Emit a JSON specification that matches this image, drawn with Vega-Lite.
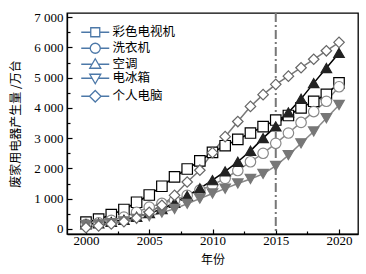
{
  "$schema": "https://vega.github.io/schema/vega-lite/v6.json",
  "width": 291,
  "height": 221,
  "autosize": {"type": "none"},
  "padding": {"left": 67, "top": 13, "right": 8, "bottom": 40},
  "config": {
    "view": {"stroke": "#000", "strokeWidth": 1.3},
    "axis": {
      "labelFont": "Liberation Serif",
      "labelFontSize": 13,
      "labelColor": "#000",
      "titleFont": "Noto Sans CJK SC",
      "titleFontSize": 12,
      "titleFontWeight": "normal",
      "titleColor": "#000",
      "domainColor": "#000",
      "domainWidth": 1.3,
      "tickColor": "#000",
      "tickWidth": 1.2,
      "grid": false
    },
    "legend": {
      "labelFont": "Noto Sans CJK SC",
      "labelFontSize": 12.5,
      "labelColor": "#000"
    }
  },
  "datasets": {
    "d": [
      {"year": 2000, "series": "彩色电视机", "value": 220},
      {"year": 2001, "series": "彩色电视机", "value": 320},
      {"year": 2002, "series": "彩色电视机", "value": 470},
      {"year": 2003, "series": "彩色电视机", "value": 640},
      {"year": 2004, "series": "彩色电视机", "value": 880},
      {"year": 2005, "series": "彩色电视机", "value": 1120},
      {"year": 2006, "series": "彩色电视机", "value": 1410},
      {"year": 2007, "series": "彩色电视机", "value": 1720},
      {"year": 2008, "series": "彩色电视机", "value": 1980},
      {"year": 2009, "series": "彩色电视机", "value": 2250},
      {"year": 2010, "series": "彩色电视机", "value": 2530},
      {"year": 2011, "series": "彩色电视机", "value": 2750},
      {"year": 2012, "series": "彩色电视机", "value": 2960},
      {"year": 2013, "series": "彩色电视机", "value": 3170},
      {"year": 2014, "series": "彩色电视机", "value": 3380},
      {"year": 2015, "series": "彩色电视机", "value": 3600},
      {"year": 2016, "series": "彩色电视机", "value": 3750},
      {"year": 2017, "series": "彩色电视机", "value": 4000},
      {"year": 2018, "series": "彩色电视机", "value": 4220},
      {"year": 2019, "series": "彩色电视机", "value": 4450},
      {"year": 2020, "series": "彩色电视机", "value": 4830},
      {"year": 2000, "series": "洗衣机", "value": 150},
      {"year": 2001, "series": "洗衣机", "value": 200},
      {"year": 2002, "series": "洗衣机", "value": 280},
      {"year": 2003, "series": "洗衣机", "value": 390},
      {"year": 2004, "series": "洗衣机", "value": 550},
      {"year": 2005, "series": "洗衣机", "value": 720},
      {"year": 2006, "series": "洗衣机", "value": 840},
      {"year": 2007, "series": "洗衣机", "value": 950},
      {"year": 2008, "series": "洗衣机", "value": 1110},
      {"year": 2009, "series": "洗衣机", "value": 1280},
      {"year": 2010, "series": "洗衣机", "value": 1450},
      {"year": 2011, "series": "洗衣机", "value": 1670},
      {"year": 2012, "series": "洗衣机", "value": 1930},
      {"year": 2013, "series": "洗衣机", "value": 2220},
      {"year": 2014, "series": "洗衣机", "value": 2500},
      {"year": 2015, "series": "洗衣机", "value": 2830},
      {"year": 2016, "series": "洗衣机", "value": 3170},
      {"year": 2017, "series": "洗衣机", "value": 3520},
      {"year": 2018, "series": "洗衣机", "value": 3880},
      {"year": 2019, "series": "洗衣机", "value": 4220},
      {"year": 2020, "series": "洗衣机", "value": 4700},
      {"year": 2000, "series": "空调", "value": 150},
      {"year": 2001, "series": "空调", "value": 180},
      {"year": 2002, "series": "空调", "value": 230},
      {"year": 2003, "series": "空调", "value": 300},
      {"year": 2004, "series": "空调", "value": 400},
      {"year": 2005, "series": "空调", "value": 520},
      {"year": 2006, "series": "空调", "value": 650},
      {"year": 2007, "series": "空调", "value": 860},
      {"year": 2008, "series": "空调", "value": 1090},
      {"year": 2009, "series": "空调", "value": 1340},
      {"year": 2010, "series": "空调", "value": 1610},
      {"year": 2011, "series": "空调", "value": 1900},
      {"year": 2012, "series": "空调", "value": 2220},
      {"year": 2013, "series": "空调", "value": 2580},
      {"year": 2014, "series": "空调", "value": 3000},
      {"year": 2015, "series": "空调", "value": 3390},
      {"year": 2016, "series": "空调", "value": 3850},
      {"year": 2017, "series": "空调", "value": 4300},
      {"year": 2018, "series": "空调", "value": 4820},
      {"year": 2019, "series": "空调", "value": 5320},
      {"year": 2020, "series": "空调", "value": 5820},
      {"year": 2000, "series": "电冰箱", "value": 120},
      {"year": 2001, "series": "电冰箱", "value": 150},
      {"year": 2002, "series": "电冰箱", "value": 190},
      {"year": 2003, "series": "电冰箱", "value": 250},
      {"year": 2004, "series": "电冰箱", "value": 330},
      {"year": 2005, "series": "电冰箱", "value": 420},
      {"year": 2006, "series": "电冰箱", "value": 540},
      {"year": 2007, "series": "电冰箱", "value": 660},
      {"year": 2008, "series": "电冰箱", "value": 830},
      {"year": 2009, "series": "电冰箱", "value": 1000},
      {"year": 2010, "series": "电冰箱", "value": 1170},
      {"year": 2011, "series": "电冰箱", "value": 1330},
      {"year": 2012, "series": "电冰箱", "value": 1500},
      {"year": 2013, "series": "电冰箱", "value": 1650},
      {"year": 2014, "series": "电冰箱", "value": 1820},
      {"year": 2015, "series": "电冰箱", "value": 2080},
      {"year": 2016, "series": "电冰箱", "value": 2440},
      {"year": 2017, "series": "电冰箱", "value": 2830},
      {"year": 2018, "series": "电冰箱", "value": 3220},
      {"year": 2019, "series": "电冰箱", "value": 3660},
      {"year": 2020, "series": "电冰箱", "value": 4100},
      {"year": 2000, "series": "个人电脑", "value": 40},
      {"year": 2001, "series": "个人电脑", "value": 100},
      {"year": 2002, "series": "个人电脑", "value": 160},
      {"year": 2003, "series": "个人电脑", "value": 240},
      {"year": 2004, "series": "个人电脑", "value": 360},
      {"year": 2005, "series": "个人电脑", "value": 550},
      {"year": 2006, "series": "个人电脑", "value": 780},
      {"year": 2007, "series": "个人电脑", "value": 1110},
      {"year": 2008, "series": "个人电脑", "value": 1550},
      {"year": 2009, "series": "个人电脑", "value": 1940},
      {"year": 2010, "series": "个人电脑", "value": 2520},
      {"year": 2011, "series": "个人电脑", "value": 3050},
      {"year": 2012, "series": "个人电脑", "value": 3550},
      {"year": 2013, "series": "个人电脑", "value": 4050},
      {"year": 2014, "series": "个人电脑", "value": 4440},
      {"year": 2015, "series": "个人电脑", "value": 4780},
      {"year": 2016, "series": "个人电脑", "value": 5050},
      {"year": 2017, "series": "个人电脑", "value": 5330},
      {"year": 2018, "series": "个人电脑", "value": 5610},
      {"year": 2019, "series": "个人电脑", "value": 5890},
      {"year": 2020, "series": "个人电脑", "value": 6170}
    ],
    "ref": [{"year": 2015}]
  },
  "encoding": {
    "x": {
      "field": "year", "type": "quantitative",
      "scale": {"domain": [1998.5, 2021.5], "nice": false, "zero": false},
      "axis": {
        "title": "年份",
        "values": [2000, 2002.5, 2005, 2007.5, 2010, 2012.5, 2015, 2017.5, 2020],
        "labelExpr": "datum.value % 5 === 0 ? format(datum.value, 'd') : ''",
        "tickSize": {"condition": {"test": "datum.value % 5 === 0", "value": -5}, "value": -3},
        "labelPadding": 5,
        "titlePadding": 7,
        "labelFlush": false
      }
    },
    "y": {
      "field": "value", "type": "quantitative",
      "scale": {"domain": [-170, 7140], "nice": false, "zero": false},
      "axis": {
        "title": "废家用电器产生量 /万台",
        "values": [0, 500, 1000, 1500, 2000, 2500, 3000, 3500, 4000, 4500, 5000, 5500, 6000, 6500, 7000],
        "labelExpr": "datum.value % 1000 === 0 ? replace(format(datum.value, ','), ',', ' ') : ''",
        "tickSize": {"condition": {"test": "datum.value % 1000 === 0", "value": -5}, "value": -3},
        "labelPadding": 9,
        "titleX": -45,
        "labelFlush": false
      }
    }
  },
  "layer": [
    {
      "data": {"name": "ref"},
      "mark": {"type": "rule", "color": "#777", "strokeWidth": 2, "strokeDash": [9, 3, 2, 3]},
      "encoding": {"x": {"field": "year", "type": "quantitative"}, "y": null}
    },
    {
      "data": {"name": "d"},
      "mark": {"type": "line", "strokeWidth": 1.5},
      "encoding": {
        "color": {
          "field": "series", "type": "nominal", "sort": null,
          "scale": {"range": ["#000000", "#888888", "#000000", "#888888", "#777777"]},
          "legend": null
        }
      }
    },
    {
      "data": {"name": "d"},
      "transform": [{"filter": {"field": "series", "equal": "彩色电视机"}}],
      "mark": {"type": "point", "shape": "square", "size": 110, "strokeWidth": 1.2, "opacity": 1, "stroke": "#000000", "fill": "#ffffff", "filled": false}
    },
    {
      "data": {"name": "d"},
      "transform": [{"filter": {"field": "series", "equal": "洗衣机"}}],
      "mark": {"type": "point", "shape": "circle", "size": 110, "strokeWidth": 1.2, "opacity": 1, "stroke": "#888888", "fill": "#ffffff", "filled": false}
    },
    {
      "data": {"name": "d"},
      "transform": [{"filter": {"field": "series", "equal": "空调"}}],
      "mark": {"type": "point", "shape": "triangle-up", "size": 110, "strokeWidth": 1.2, "opacity": 1, "stroke": "#222222", "fill": "#222222", "filled": false}
    },
    {
      "data": {"name": "d"},
      "transform": [{"filter": {"field": "series", "equal": "电冰箱"}}],
      "mark": {"type": "point", "shape": "triangle-down", "size": 110, "strokeWidth": 1.2, "opacity": 1, "stroke": "#777777", "fill": "#777777", "filled": false}
    },
    {
      "data": {"name": "d"},
      "transform": [{"filter": {"field": "series", "equal": "个人电脑"}}],
      "mark": {"type": "point", "shape": "diamond", "size": 110, "strokeWidth": 1.2, "opacity": 1, "stroke": "#666666", "fill": "#ffffff", "filled": false}
    },
    {
      "data": {"name": "d"},
      "mark": {"type": "point", "size": 100, "strokeWidth": 1.3, "opacity": 0, "filled": false},
      "encoding": {
        "shape": {
          "field": "series", "type": "nominal",
          "scale": {
            "domain": ["彩色电视机", "洗衣机", "空调", "电冰箱", "个人电脑"],
            "range": [
              "M-2.8,0H-0.9M0.9,0H2.8M-0.9,-0.9H0.9V0.9H-0.9Z",
              "M-2.8,0H-1M1,0H2.8M-1,0A1,1,0,1,0,1,0A1,1,0,1,0,-1,0Z",
              "M-2.8,0H-0.64M0.64,0H2.8M0,-1.1L1.1,0.8H-1.1Z",
              "M-2.8,0H-0.64M0.64,0H2.8M0,1.1L1.1,-0.8H-1.1Z",
              "M-2.8,0H-1.15M1.15,0H2.8M0,-1.15L1.15,0L0,1.15L-1.15,0Z"
            ]
          },
          "legend": {
            "orient": "none", "legendX": 22, "legendY": 13,
            "title": null, "padding": 0,
            "symbolSize": 100,
            "symbolStrokeWidth": 1.3,
            "symbolOpacity": 1,
            "labelOffset": 11,
            "rowPadding": 0,
            "encode": {
              "symbols": {
                "update": {
                  "opacity": {"value": 1},
                  "strokeWidth": {"value": 1.3},
                  "size": {"value": 100},
                  "shape": {"signal": "datum.value === '彩色电视机' ? 'M-2.8,0H-0.9M0.9,0H2.8M-0.9,-0.9H0.9V0.9H-0.9Z' : datum.value === '洗衣机' ? 'M-2.8,0H-1M1,0H2.8M-1,0A1,1,0,1,0,1,0A1,1,0,1,0,-1,0Z' : datum.value === '空调' ? 'M-2.8,0H-0.64M0.64,0H2.8M0,-1.1L1.1,0.8H-1.1Z' : datum.value === '电冰箱' ? 'M-2.8,0H-0.64M0.64,0H2.8M0,1.1L1.1,-0.8H-1.1Z' : 'M-2.8,0H-1.15M1.15,0H2.8M0,-1.15L1.15,0L0,1.15L-1.15,0Z'"},
                  "stroke": {"signal": "datum.value === '彩色电视机' ? '#000000' : datum.value === '洗衣机' ? '#888888' : datum.value === '空调' ? '#222222' : datum.value === '电冰箱' ? '#777777' : '#666666'"},
                  "fill": {"signal": "datum.value === '空调' ? '#222222' : datum.value === '电冰箱' ? '#777777' : '#ffffff'"}
                }
              }
            }
          }
        }
      }
    }
  ]
}
